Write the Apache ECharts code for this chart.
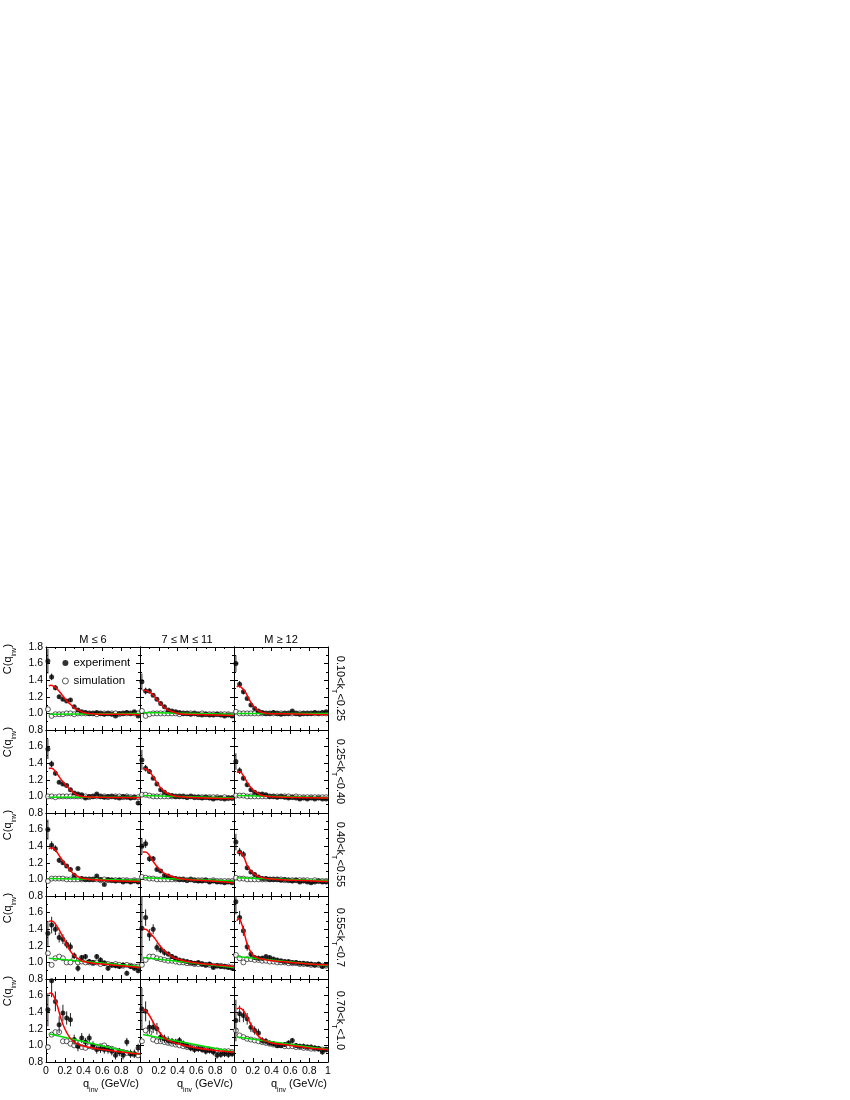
<!DOCTYPE html>
<html>
<head>
<meta charset="utf-8">
<script src="https://cdn.jsdelivr.net/npm/echarts@6/dist/echarts.min.js"></script>
<style>
  html, body { margin: 0; padding: 0; background: #fff; }
  #chart { width: 850px; height: 1100px; }
</style>
</head>
<body>
<div id="chart"></div>
<script>
// q_inv bin centres (GeV/c)
const qBins = [0.02,0.06,0.10,0.14,0.18,0.22,0.26,0.30,0.34,0.38,0.42,0.46,0.50,0.54,0.58,0.62,0.66,0.70,0.74,0.78,0.82,0.86,0.90,0.94,0.98];

const multClasses = ['M ≤ 6', '7 ≤ M ≤ 11', 'M ≥ 12'];
const ktClasses = [['0.10', '0.25'], ['0.25', '0.40'], ['0.40', '0.55'], ['0.55', '0.7'], ['0.70', '1.0']];

// ---- row 1 : 0.10<kT<0.25 ----
const expR1C1 = [1.63,1.44,1.31,1.20,1.17,1.15,1.16,1.08,1.04,1.02,1.01,1.00,1.00,1.01,1.00,0.99,1.00,0.99,0.97,1.00,1.00,1.01,1.00,1.02,0.97];
const errR1C1 = [0.15,0.04,0.03,0.02,0.02,0.02,0.02,0.015,0.015,0.01,0.01,0.01,0.01,0.01,0.01,0.01,0.01,0.01,0.01,0.01,0.01,0.01,0.01,0.01,0.01];
const simR1C1 = [1.05,0.97,0.99,0.99,0.99,1.00,1.00,0.99,1.00,1.00,1.00,1.00,1.00,0.99,1.00,1.00,1.00,1.00,1.00,0.99,1.00,1.00,1.00,1.00,1.00];
const fitR1C1 = [[0.03,1.33],[0.05,1.34],[0.08,1.33],[0.12,1.29],[0.16,1.24],[0.20,1.18],[0.24,1.13],[0.28,1.09],[0.32,1.05],[0.36,1.03],[0.40,1.01],[0.45,1.00],[0.50,0.995],[0.60,0.99],[0.80,0.99],[1.00,0.985]];
const baseR1C1 = [[0.03,0.99],[1.00,1.00]];

const expR1C2 = [1.38,1.27,1.27,1.22,1.17,1.12,1.08,1.04,1.03,1.02,1.01,1.00,1.00,0.99,1.00,0.99,0.98,0.99,0.98,0.98,0.99,0.98,0.97,0.98,0.97];
const errR1C2 = [0.10,0.04,0.03,0.02,0.02,0.02,0.02,0.015,0.015,0.01,0.01,0.01,0.01,0.01,0.01,0.01,0.01,0.01,0.01,0.01,0.01,0.01,0.01,0.01,0.01];
const simR1C2 = [1.03,0.97,0.99,1.00,1.00,1.00,1.00,1.00,1.00,1.00,0.99,1.00,1.00,1.00,1.00,0.99,1.00,0.99,0.99,0.99,0.99,0.99,0.99,0.99,0.98];
const fitR1C2 = [[0.03,1.27],[0.05,1.28],[0.10,1.26],[0.15,1.21],[0.20,1.14],[0.25,1.08],[0.30,1.04],[0.35,1.02],[0.40,1.00],[0.50,0.99],[0.70,0.985],[1.00,0.975]];
const baseR1C2 = [[0.03,1.01],[1.00,0.99]];

const expR1C3 = [1.60,1.35,1.26,1.18,1.10,1.06,1.03,1.01,1.00,1.00,1.01,1.00,0.99,1.00,1.00,1.03,1.00,0.99,1.00,1.00,1.00,1.01,1.00,1.01,1.02];
const errR1C3 = [0.10,0.04,0.03,0.02,0.02,0.02,0.015,0.015,0.01,0.01,0.01,0.01,0.01,0.01,0.01,0.01,0.01,0.01,0.01,0.01,0.01,0.01,0.01,0.01,0.01];
const simR1C3 = [1.02,1.00,1.00,1.00,1.00,1.00,1.00,1.00,1.00,1.00,1.00,1.00,1.00,1.00,1.00,1.00,1.00,1.00,1.00,1.00,1.00,1.00,1.00,1.00,1.00];
const fitR1C3 = [[0.03,1.32],[0.05,1.33],[0.08,1.31],[0.12,1.26],[0.16,1.17],[0.20,1.10],[0.25,1.04],[0.30,1.01],[0.35,1.00],[0.50,0.995],[1.00,0.985]];
const baseR1C3 = [[0.03,1.00],[1.00,1.00]];

// ---- row 2 : 0.25<kT<0.40 ----
const expR2C1 = [1.57,1.39,1.28,1.17,1.15,1.13,1.08,1.04,1.03,1.02,0.98,1.00,1.00,1.03,1.00,0.99,1.00,1.00,0.99,0.98,1.00,0.99,0.98,0.99,0.92];
const errR2C1 = [0.12,0.04,0.03,0.02,0.02,0.02,0.02,0.015,0.015,0.01,0.01,0.01,0.01,0.01,0.01,0.01,0.01,0.01,0.01,0.01,0.01,0.01,0.01,0.01,0.02];
const simR2C1 = [1.00,1.00,0.99,1.00,1.00,1.00,1.00,1.00,1.00,1.00,1.00,0.99,1.00,1.00,1.00,1.00,0.99,1.00,1.00,1.00,0.99,1.00,0.99,0.99,0.99];
const fitR2C1 = [[0.03,1.34],[0.06,1.34],[0.10,1.30],[0.15,1.22],[0.20,1.15],[0.25,1.09],[0.30,1.04],[0.35,1.01],[0.40,0.995],[0.60,0.99],[1.00,0.985]];
const baseR2C1 = [[0.03,0.99],[1.00,0.99]];

const expR2C2 = [1.44,1.34,1.30,1.22,1.15,1.08,1.05,1.02,1.01,1.00,1.00,1.00,0.99,1.00,0.99,0.99,0.98,0.99,0.98,0.97,0.98,0.98,0.97,0.98,0.98];
const errR2C2 = [0.12,0.04,0.03,0.02,0.02,0.02,0.015,0.015,0.01,0.01,0.01,0.01,0.01,0.01,0.01,0.01,0.01,0.01,0.01,0.01,0.01,0.01,0.01,0.01,0.01];
const simR2C2 = [1.02,1.02,1.01,1.00,1.00,1.00,1.00,1.00,1.00,1.00,1.00,1.00,0.99,1.00,0.99,0.99,0.99,0.99,0.99,0.99,0.99,0.98,0.99,0.98,0.98];
const fitR2C2 = [[0.03,1.34],[0.06,1.33],[0.10,1.30],[0.15,1.22],[0.20,1.13],[0.25,1.07],[0.30,1.03],[0.35,1.01],[0.40,1.00],[0.60,0.985],[1.00,0.975]];
const baseR2C2 = [[0.03,1.01],[1.00,0.98]];

const expR2C3 = [1.42,1.31,1.22,1.14,1.08,1.05,1.03,1.03,1.02,1.00,1.00,0.99,1.00,0.99,0.98,0.99,0.98,0.97,0.98,0.97,0.98,0.97,0.98,0.97,0.97];
const errR2C3 = [0.10,0.04,0.03,0.02,0.02,0.02,0.015,0.015,0.01,0.01,0.01,0.01,0.01,0.01,0.01,0.01,0.01,0.01,0.01,0.01,0.01,0.01,0.01,0.01,0.01];
const simR2C3 = [1.01,1.01,1.01,1.00,1.00,1.00,1.00,1.00,1.00,1.00,1.00,1.00,1.00,1.00,1.00,0.99,1.00,0.99,0.99,0.99,0.99,0.99,0.99,0.99,0.99];
const fitR2C3 = [[0.03,1.29],[0.06,1.30],[0.10,1.25],[0.15,1.15],[0.20,1.08],[0.25,1.04],[0.30,1.01],[0.40,0.995],[1.00,0.98]];
const baseR2C3 = [[0.03,1.01],[1.00,0.985]];

// ---- row 3 : 0.40<kT<0.55 ----
const expR3C1 = [1.60,1.41,1.37,1.23,1.20,1.16,1.12,1.05,1.13,1.01,1.00,1.00,1.00,1.04,1.00,0.94,1.00,0.99,0.98,0.99,0.97,0.98,0.97,0.98,0.97];
const errR3C1 = [0.12,0.05,0.04,0.03,0.02,0.02,0.02,0.02,0.015,0.015,0.01,0.01,0.01,0.01,0.01,0.01,0.01,0.01,0.01,0.01,0.01,0.01,0.01,0.01,0.01];
const simR3C1 = [0.98,1.01,1.01,1.01,1.01,1.00,1.00,1.00,1.00,1.00,1.00,1.00,1.00,1.00,0.99,1.00,0.99,0.99,0.99,0.99,0.99,0.99,0.98,0.99,0.98];
const fitR3C1 = [[0.03,1.37],[0.06,1.38],[0.10,1.35],[0.15,1.27],[0.20,1.19],[0.25,1.12],[0.30,1.06],[0.35,1.03],[0.40,1.01],[0.50,0.995],[0.70,0.985],[1.00,0.975]];
const baseR3C1 = [[0.03,1.01],[1.00,0.99]];

const expR3C2 = [1.40,1.43,1.25,1.25,1.12,1.10,1.05,1.04,1.02,1.01,1.00,1.00,0.99,1.00,0.99,0.98,0.98,0.99,0.97,0.98,0.97,0.97,0.96,0.97,0.96];
const errR3C2 = [0.10,0.05,0.04,0.03,0.02,0.02,0.02,0.015,0.015,0.01,0.01,0.01,0.01,0.01,0.01,0.01,0.01,0.01,0.01,0.01,0.01,0.01,0.01,0.01,0.01];
const simR3C2 = [1.03,1.02,1.01,1.01,1.00,1.00,1.00,1.00,1.00,1.00,1.00,1.00,0.99,1.00,0.99,0.99,0.99,0.99,0.98,0.99,0.98,0.98,0.98,0.98,0.98];
const fitR3C2 = [[0.03,1.33],[0.06,1.33],[0.10,1.29],[0.15,1.20],[0.20,1.13],[0.25,1.08],[0.30,1.05],[0.35,1.03],[0.40,1.015],[0.50,1.00],[0.70,0.985],[1.00,0.96]];
const baseR3C2 = [[0.03,1.02],[1.00,0.98]];

const expR3C3 = [1.45,1.33,1.30,1.14,1.09,1.06,1.03,1.01,1.01,1.00,1.00,1.00,0.99,1.00,0.99,0.98,0.99,0.97,0.98,0.97,0.96,0.97,0.98,0.97,0.97];
const errR3C3 = [0.10,0.05,0.04,0.03,0.02,0.02,0.015,0.015,0.01,0.01,0.01,0.01,0.01,0.01,0.01,0.01,0.01,0.01,0.01,0.01,0.01,0.01,0.01,0.01,0.01];
const simR3C3 = [1.02,1.01,1.01,1.00,1.00,1.00,1.00,1.00,1.00,1.00,1.00,1.00,1.00,0.99,0.99,0.99,0.99,0.99,0.99,0.99,0.98,0.99,0.98,0.98,0.98];
const fitR3C3 = [[0.03,1.32],[0.06,1.33],[0.10,1.28],[0.14,1.17],[0.18,1.10],[0.22,1.06],[0.27,1.03],[0.35,1.01],[0.50,0.995],[1.00,0.975]];
const baseR3C3 = [[0.03,1.02],[1.00,0.985]];

// ---- row 4 : 0.55<kT<0.7 ----
const expR4C1 = [1.35,1.45,1.40,1.30,1.28,1.22,1.19,1.08,0.93,1.06,1.07,1.01,1.00,1.07,1.03,0.99,0.93,0.97,0.96,0.95,0.97,0.87,0.95,0.93,0.90];
const errR4C1 = [0.15,0.10,0.07,0.06,0.06,0.05,0.05,0.04,0.04,0.03,0.03,0.03,0.03,0.03,0.03,0.03,0.03,0.03,0.03,0.03,0.03,0.03,0.03,0.03,0.03];
const simR4C1 = [1.11,0.97,1.05,1.07,1.05,1.00,1.00,1.04,1.00,1.01,1.00,1.00,0.99,1.00,0.98,0.99,0.98,0.97,0.98,0.97,0.96,0.97,0.96,0.95,0.95];
const fitR4C1 = [[0.03,1.49],[0.05,1.50],[0.08,1.49],[0.12,1.43],[0.16,1.35],[0.20,1.26],[0.25,1.15],[0.30,1.08],[0.35,1.04],[0.40,1.01],[0.50,0.99],[0.70,0.97],[1.00,0.94]];
const baseR4C1 = [[0.03,1.05],[1.00,0.95]];

const expR4C2 = [1.41,1.54,1.33,1.40,1.18,1.15,1.12,1.10,1.07,1.05,1.03,1.02,1.01,1.00,0.99,1.00,0.98,0.97,0.98,0.94,0.96,0.95,0.95,0.94,0.93];
const errR4C2 = [0.40,0.10,0.07,0.06,0.05,0.04,0.04,0.03,0.03,0.03,0.02,0.02,0.02,0.02,0.02,0.02,0.02,0.02,0.02,0.02,0.02,0.02,0.02,0.02,0.02];
const simR4C2 = [0.97,1.03,1.07,1.07,1.05,1.04,1.03,1.02,1.02,1.01,1.00,1.00,0.99,0.99,0.98,0.98,0.98,0.97,0.97,0.96,0.96,0.96,0.95,0.95,0.94];
const fitR4C2 = [[0.03,1.40],[0.06,1.40],[0.10,1.36],[0.15,1.30],[0.20,1.22],[0.25,1.15],[0.30,1.10],[0.35,1.06],[0.40,1.04],[0.50,1.01],[0.70,0.98],[1.00,0.95]];
const baseR4C2 = [[0.03,1.06],[1.00,0.94]];

const expR4C3 = [1.73,1.54,1.38,1.19,1.10,1.06,1.05,1.05,1.07,1.06,1.04,1.03,1.02,1.01,1.01,1.00,1.00,0.99,0.99,0.98,0.98,0.97,0.98,0.95,0.97];
const errR4C3 = [0.15,0.08,0.06,0.05,0.04,0.03,0.03,0.03,0.02,0.02,0.02,0.02,0.02,0.02,0.02,0.02,0.02,0.02,0.02,0.02,0.02,0.02,0.02,0.02,0.02];
const simR4C3 = [1.09,1.05,1.00,1.04,1.04,1.03,1.03,1.02,1.02,1.01,1.01,1.00,1.00,1.00,0.99,0.99,0.99,0.98,0.98,0.98,0.97,0.97,0.97,0.96,0.96];
const fitR4C3 = [[0.03,1.50],[0.05,1.53],[0.08,1.47],[0.11,1.35],[0.14,1.22],[0.18,1.12],[0.22,1.07],[0.30,1.04],[0.40,1.02],[0.60,1.00],[0.80,0.98],[1.00,0.97]];
const baseR4C3 = [[0.03,1.07],[1.00,0.96]];

// ---- row 5 : 0.70<kT<1.0 ----
const expR5C1 = [1.43,1.78,1.53,1.25,1.39,1.33,1.31,1.07,0.99,1.09,1.04,1.09,1.00,0.95,0.96,0.95,0.95,0.93,0.88,0.92,0.88,1.04,0.90,0.90,0.97];
const errR5C1 = [0.20,0.20,0.12,0.10,0.10,0.08,0.08,0.06,0.06,0.06,0.05,0.05,0.05,0.05,0.05,0.05,0.05,0.05,0.05,0.05,0.05,0.05,0.05,0.05,0.05];
const simR5C1 = [0.98,1.13,1.16,1.16,1.05,1.05,1.02,1.00,1.00,0.98,0.97,0.99,0.98,0.98,0.99,1.00,0.97,0.96,0.94,0.93,0.92,0.91,0.90,0.89,0.88];
const fitR5C1 = [[0.03,1.62],[0.05,1.63],[0.08,1.60],[0.12,1.48],[0.16,1.32],[0.20,1.20],[0.25,1.10],[0.30,1.04],[0.35,1.01],[0.40,0.99],[0.60,0.95],[0.80,0.92],[1.00,0.895]];
const baseR5C1 = [[0.03,1.14],[1.00,0.89]];

const expR5C2 = [1.44,1.41,1.22,1.22,1.20,1.10,1.08,1.06,1.05,1.04,1.06,1.02,1.00,0.97,0.95,0.96,0.95,0.93,0.94,0.92,0.88,0.89,0.90,0.89,0.90];
const errR5C2 = [0.25,0.12,0.08,0.07,0.07,0.06,0.05,0.05,0.04,0.04,0.04,0.04,0.04,0.04,0.04,0.04,0.04,0.04,0.04,0.04,0.04,0.04,0.04,0.04,0.04];
const simR5C2 = [1.05,1.18,1.15,1.07,1.05,1.05,1.04,1.03,1.02,1.01,1.00,0.99,0.98,0.98,0.97,0.97,0.96,0.95,0.95,0.94,0.94,0.93,0.93,0.93,0.92];
const fitR5C2 = [[0.03,1.43],[0.06,1.42],[0.10,1.36],[0.15,1.26],[0.20,1.17],[0.25,1.10],[0.30,1.06],[0.40,1.02],[0.60,0.97],[0.80,0.94],[1.00,0.92]];
const baseR5C2 = [[0.03,1.13],[1.00,0.92]];

const expR5C3 = [1.30,1.38,1.36,1.32,1.22,1.18,1.15,1.06,1.05,1.03,1.02,1.00,1.00,1.01,1.03,1.06,1.00,0.99,0.99,0.98,0.98,0.97,0.96,0.92,0.95];
const errR5C3 = [0.25,0.10,0.08,0.07,0.06,0.05,0.05,0.04,0.04,0.03,0.03,0.03,0.03,0.03,0.03,0.03,0.03,0.03,0.03,0.03,0.03,0.03,0.03,0.03,0.03];
const simR5C3 = [1.18,1.12,1.10,1.08,1.07,1.06,1.05,1.04,1.03,1.02,1.01,1.00,1.00,0.99,0.99,0.99,0.98,0.98,0.97,0.97,0.96,0.96,0.96,0.95,0.95];
const fitR5C3 = [[0.03,1.44],[0.06,1.45],[0.10,1.42],[0.14,1.34],[0.18,1.25],[0.22,1.17],[0.27,1.10],[0.32,1.06],[0.40,1.03],[0.60,1.00],[0.80,0.97],[1.00,0.95]];
const baseR5C3 = [[0.03,1.10],[1.00,0.95]];

const panels = [
  [expR1C1, errR1C1, simR1C1, fitR1C1, baseR1C1], [expR1C2, errR1C2, simR1C2, fitR1C2, baseR1C2], [expR1C3, errR1C3, simR1C3, fitR1C3, baseR1C3],
  [expR2C1, errR2C1, simR2C1, fitR2C1, baseR2C1], [expR2C2, errR2C2, simR2C2, fitR2C2, baseR2C2], [expR2C3, errR2C3, simR2C3, fitR2C3, baseR2C3],
  [expR3C1, errR3C1, simR3C1, fitR3C1, baseR3C1], [expR3C2, errR3C2, simR3C2, fitR3C2, baseR3C2], [expR3C3, errR3C3, simR3C3, fitR3C3, baseR3C3],
  [expR4C1, errR4C1, simR4C1, fitR4C1, baseR4C1], [expR4C2, errR4C2, simR4C2, fitR4C2, baseR4C2], [expR4C3, errR4C3, simR4C3, fitR4C3, baseR4C3],
  [expR5C1, errR5C1, simR5C1, fitR5C1, baseR5C1], [expR5C2, errR5C2, simR5C2, fitR5C2, baseR5C2], [expR5C3, errR5C3, simR5C3, fitR5C3, baseR5C3]
];

// layout of the 5x3 pad grid
const padLeft = 46, padTop = 647, padW = 94, padH = 83;
const FONT = 'Liberation Sans';

const chart = echarts.init(document.getElementById('chart'));

const grids = [], xAxes = [], yAxes = [], series = [], graphics = [];

const lineStyle = { color: '#000', width: 1 };
const tickStyle = { show: true, inside: true, length: 4, lineStyle: lineStyle };
const minorStyle = { show: true, splitNumber: 2, length: 2, lineStyle: lineStyle };

panels.forEach((p, i) => {
  const r = Math.floor(i / 3), c = i % 3;
  const [exp, err, sim, fit, base] = p;
  grids.push({
    left: padLeft + c * padW, top: padTop + r * padH, width: padW, height: padH,
    containLabel: false, outerBoundsMode: 'none'
  });
  const xCommon = {
    type: 'value', gridIndex: i, min: 0, max: 1, interval: 0.2,
    axisLine: { show: true, onZero: false, lineStyle: lineStyle },
    axisTick: tickStyle, minorTick: minorStyle, splitLine: { show: false }
  };
  xAxes.push(Object.assign({}, xCommon, {
    position: 'bottom',
    axisLabel: {
      show: r === 4, fontSize: 10.5, color: '#000', fontFamily: FONT, margin: 4,
      showMinLabel: true, showMaxLabel: true, hideOverlap: false,
      formatter: v => (v >= 0.999 ? (c === 2 ? '1' : '') : (v === 0 ? '0' : v.toFixed(1)))
    }
  }));
  xAxes.push(Object.assign({}, xCommon, { position: 'top', axisLabel: { show: false } }));
  const yCommon = {
    type: 'value', gridIndex: i, min: 0.8, max: 1.8, interval: 0.2,
    axisLine: { show: true, onZero: false, lineStyle: lineStyle },
    axisTick: tickStyle, minorTick: minorStyle, splitLine: { show: false }
  };
  yAxes.push(Object.assign({}, yCommon, {
    position: 'left',
    axisLabel: {
      show: c === 0, fontSize: 10.5, color: '#000', fontFamily: FONT, margin: 3,
      showMinLabel: true, showMaxLabel: true, hideOverlap: false,
      formatter: v => (v > 1.79 && r > 0 ? '' : v.toFixed(1))
    }
  }));
  yAxes.push(Object.assign({}, yCommon, { position: 'right', axisLabel: { show: false } }));

  const ax = { xAxisIndex: 2 * i, yAxisIndex: 2 * i };
  series.push(Object.assign({
    name: 'simulation', type: 'scatter', symbol: 'circle', symbolSize: 5, z: 2,
    itemStyle: { color: '#fff', borderColor: '#000', borderWidth: 0.8 },
    data: qBins.map((q, k) => [q, sim[k]])
  }, ax));
  series.push(Object.assign({
    type: 'custom', z: 3, clip: true, silent: true,
    renderItem: (params, api) => {
      const a = api.coord([api.value(0), api.value(1)]);
      const b = api.coord([api.value(0), api.value(2)]);
      return { type: 'line', shape: { x1: a[0], y1: a[1], x2: b[0], y2: b[1] }, style: { stroke: '#222', lineWidth: 1 } };
    },
    data: qBins.map((q, k) => [q, exp[k] - err[k], exp[k] + err[k]])
  }, ax));
  series.push(Object.assign({
    name: 'experiment', type: 'scatter', symbol: 'circle', symbolSize: 5, z: 4,
    itemStyle: { color: '#000' },
    data: qBins.map((q, k) => [q, exp[k]])
  }, ax));
  series.push(Object.assign({
    type: 'line', data: base, showSymbol: false, z: 5, silent: true,
    lineStyle: { color: '#00dd00', width: 1.5 }
  }, ax));
  series.push(Object.assign({
    type: 'line', data: fit, smooth: 0.4, showSymbol: false, z: 6, silent: true,
    lineStyle: { color: '#ff0000', width: 1.5 }
  }, ax));
});

const richSub = {
  m: { fontSize: 11, fontFamily: FONT, lineHeight: 16, verticalAlign: 'top' },
  s: { fontSize: 7, fontFamily: FONT, lineHeight: 16, verticalAlign: 'bottom' }
};

// column headers and x titles
multClasses.forEach((t, c) => {
  graphics.push({
    type: 'text', x: padLeft + c * padW + padW / 2, y: 640,
    style: { text: t, font: '11px ' + FONT, fill: '#000', align: 'center', verticalAlign: 'middle' }
  });
  graphics.push({
    type: 'text', x: padLeft + (c + 1) * padW - 1, y: 1086,
    style: { text: '{m|q}{s|inv}{m| (GeV/c)}', align: 'right', verticalAlign: 'middle', fill: '#000', rich: richSub }
  });
});

// row labels: y title on the left, kT range on the right
ktClasses.forEach((k, r) => {
  graphics.push({
    type: 'text', x: 10, y: padTop + r * padH + 12, rotation: Math.PI / 2,
    style: { text: '{m|C(q}{s|inv}{m|)}', align: 'center', verticalAlign: 'middle', fill: '#000', rich: richSub }
  });
  graphics.push({
    type: 'text', x: 338, y: padTop + r * padH + padH / 2, rotation: -Math.PI / 2,
    style: { text: '{m|' + k[0] + '<k}{s|T}{m|<' + k[1] + '}', align: 'center', verticalAlign: 'middle', fill: '#000', rich: richSub }
  });
});

chart.setOption({
  animation: false,
  textStyle: { fontFamily: FONT },
  legend: {
    data: [
      { name: 'experiment', icon: 'circle', itemStyle: { color: '#000', borderWidth: 0 } },
      { name: 'simulation', icon: 'circle', itemStyle: { color: '#fff', borderColor: '#000', borderWidth: 0.8 } }
    ],
    orient: 'vertical', left: 62, top: 657,
    itemWidth: 6, itemHeight: 6, itemGap: 6, padding: 0, selectedMode: false,
    textStyle: { fontSize: 11.5, color: '#000', fontFamily: FONT }
  },
  grid: grids,
  xAxis: xAxes,
  yAxis: yAxes,
  series: series,
  graphic: graphics
});
</script>
</body>
</html>
